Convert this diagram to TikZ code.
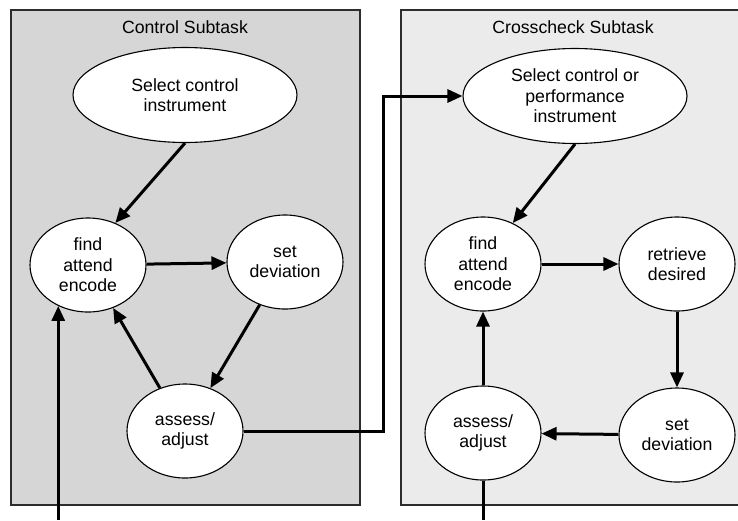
\documentclass[tikz,border=0pt]{standalone}
\usepackage{fontspec}
\setmainfont{Liberation Sans}
\usetikzlibrary{shapes.geometric,arrows.meta}

\definecolor{panelA}{RGB}{214,214,214}
\definecolor{panelB}{RGB}{235,235,235}
\definecolor{frame}{RGB}{45,45,45}

\tikzset{
  stage/.style={ellipse, draw=black, line width=1.1pt, fill=white, inner sep=0pt,
    minimum width=116pt, minimum height=94pt, align=center,
    font=\fontsize{17.7}{20.5}\selectfont},
  wide/.style={stage, minimum width=224pt, minimum height=95pt},
  flow/.style={line width=3pt, -{Triangle[length=15pt,width=13pt]}},
  plain/.style={line width=3pt},
  panel title/.style={font=\fontsize{17.7}{20.5}\selectfont, anchor=center}
}

\begin{document}
\begin{tikzpicture}[x=1pt,y=-1pt]
  \useasboundingbox (0,0) rectangle (738,520);

  % subtask panels
  \fill[panelA] (11,10) rectangle (360,505);
  \draw[frame, line width=1.3pt] (11,10) rectangle (360,505);
  \fill[panelB] (401,10) rectangle (738,505);
  \draw[frame, line width=1.3pt] (738,10) -- (401,10) -- (401,505) -- (738,505);

  \node[panel title] (ctitle) at (185,27) {Control Subtask};
  \node[panel title] (xtitle) at (573,27) {Crosscheck Subtask};

  % control subtask
  \node[wide] (lsel) at (185,95) {Select control\\instrument};
  \node[stage] (lfind) at (88,265) {find\\attend\\encode};
  \node[stage] (lset) at (285,262) {set\\deviation};
  \node[stage] (lassess) at (185,431) {assess/\\adjust};

  % crosscheck subtask
  \node[wide] (rsel) at (575,96) {Select control or\\performance\\instrument};
  \node[stage] (rfind) at (483,264) {find\\attend\\encode};
  \node[stage] (rret) at (677,264) {retrieve\\desired};
  \node[stage] (rset) at (677,435) {set\\deviation};
  \node[stage] (rassess) at (483,433) {assess/\\adjust};

  % loose ends at the page bottom
  \coordinate (lentry) at (60,520);
  \coordinate (rexit) at (483,520);
  \coordinate (turn) at (383,96);

  % control loop
  \draw[flow] (lsel.south) -- (lfind.57);
  \draw[flow] (lfind) -- (lset);
  \draw[flow] (lset) -- (lassess);
  \draw[flow] (lassess) -- (lfind);
  \draw[flow] (lfind.234 |- lentry) -- (lfind.234);

  % hand-over to crosscheck
  \draw[flow] (lassess.east) -| (turn) -- (rsel.west);

  % crosscheck loop
  \draw[flow] (rsel.south) -- (rfind.54);
  \draw[flow] (rfind) -- (rret);
  \draw[flow] (rret) -- (rset);
  \draw[flow] (rset) -- (rassess);
  \draw[flow] (rassess) -- (rfind);
  \draw[plain] (rassess.south) -- (rexit);
\end{tikzpicture}
\end{document}
